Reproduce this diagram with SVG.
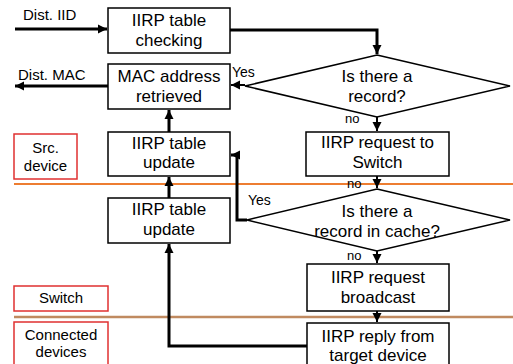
<svg xmlns="http://www.w3.org/2000/svg" width="513" height="364" viewBox="0 0 513 364">
  <style>
    .box { fill: #ffffff; stroke: #000000; stroke-width: 1.5; }
    .lane { fill: #ffffff; stroke: #e03030; stroke-width: 1.5; }
    .t { font-family: "Liberation Sans", Arial, sans-serif; font-size: 17px; fill: #000000; text-anchor: middle; }
    .lt { font-family: "Liberation Sans", Arial, sans-serif; font-size: 15px; fill: #000000; text-anchor: middle; }
    .d { font-family: "Liberation Sans", Arial, sans-serif; font-size: 15px; fill: #000000; }
    .s { font-family: "Liberation Sans", Arial, sans-serif; font-size: 14px; fill: #000000; }
    .n { font-family: "Liberation Sans", Arial, sans-serif; font-size: 13px; fill: #000000; }
    .thick { fill: none; stroke: #000000; stroke-width: 3; }
    .thin { fill: none; stroke: #000000; stroke-width: 2; }
  </style>
  <defs>
    <marker id="arrow" markerUnits="userSpaceOnUse" markerWidth="10" markerHeight="10" refX="9" refY="5" orient="auto">
      <path d="M0,0.5 L9,5 L0,9.5 Z" fill="#000000"/>
    </marker>
  </defs>

  <rect width="513" height="364" fill="#ffffff"/>

  <!-- lane separators -->
  <g id="lanes">
    <line x1="14" y1="184" x2="513" y2="184" stroke="#ed7d31" stroke-width="2"/>
    <line x1="14" y1="317" x2="513" y2="317" stroke="#c08a60" stroke-width="2.5"/>
  </g>

  <!-- lane labels -->
  <g id="lane-src">
    <rect class="lane" x="14" y="134" width="63" height="45"/>
    <text class="lt" x="45.5" y="153">Src.</text>
    <text class="lt" x="45.5" y="171">device</text>
  </g>
  <g id="lane-switch">
    <rect class="lane" x="14" y="286" width="94" height="25"/>
    <text class="lt" x="61" y="303">Switch</text>
  </g>
  <g id="lane-connected">
    <rect class="lane" x="14" y="322" width="94" height="50"/>
    <text class="lt" x="61" y="340">Connected</text>
    <text class="lt" x="61" y="357">devices</text>
  </g>

  <!-- connectors -->
  <g id="connectors">
    <line class="thick" x1="15" y1="29" x2="107" y2="29" marker-end="url(#arrow)"/>
    <line class="thick" x1="108" y1="86" x2="15" y2="86" marker-end="url(#arrow)"/>
    <path class="thick" d="M230,30 H377 V54" marker-end="url(#arrow)"/>
    <line class="thin" x1="245" y1="85" x2="231" y2="85" marker-end="url(#arrow)"/>
    <line class="thin" x1="377" y1="117" x2="377" y2="131" marker-end="url(#arrow)"/>
    <line class="thin" x1="377" y1="176" x2="377" y2="188" marker-end="url(#arrow)"/>
    <path class="thick" d="M247,220 H237 V155 H231" marker-end="url(#arrow)"/>
    <line class="thin" x1="377" y1="251" x2="377" y2="263" marker-end="url(#arrow)"/>
    <line class="thin" x1="377" y1="311" x2="377" y2="322" marker-end="url(#arrow)"/>
    <path class="thick" d="M307,346 H169 V244" marker-end="url(#arrow)"/>
    <line class="thick" x1="169" y1="198" x2="169" y2="177" marker-end="url(#arrow)"/>
    <line class="thick" x1="169" y1="132" x2="169" y2="110" marker-end="url(#arrow)"/>
    <text class="d" x="23" y="20">Dist. IID</text>
    <text class="d" x="18" y="80">Dist. MAC</text>
    <text class="s" x="232" y="77">Yes</text>
    <text class="n" x="345" y="123">no</text>
    <text class="n" x="347" y="188">no</text>
    <text class="s" x="248" y="205">Yes</text>
    <text class="n" x="347" y="260">no</text>
  </g>

  <!-- nodes -->
  <g id="table-checking">
    <rect class="box" x="108" y="8" width="122" height="45"/>
    <text class="t" x="169" y="26">IIRP table</text>
    <text class="t" x="169" y="46">checking</text>
  </g>
  <g id="mac-retrieved">
    <rect class="box" x="108" y="64" width="122" height="45"/>
    <text class="t" x="169" y="82">MAC address</text>
    <text class="t" x="169" y="102">retrieved</text>
  </g>
  <g id="src-table-update">
    <rect class="box" x="108" y="132" width="122" height="44"/>
    <text class="t" x="169" y="149">IIRP table</text>
    <text class="t" x="169" y="168">update</text>
  </g>
  <g id="switch-table-update">
    <rect class="box" x="108" y="198" width="122" height="45"/>
    <text class="t" x="169" y="215">IIRP table</text>
    <text class="t" x="169" y="235">update</text>
  </g>
  <g id="record-check">
    <polygon class="box" points="377,55 510,86 377,117 245,86"/>
    <text class="t" x="377" y="82">Is there a</text>
    <text class="t" x="377" y="102">record?</text>
  </g>
  <g id="request-to-switch">
    <rect class="box" x="306" y="132" width="143" height="44"/>
    <text class="t" x="377.5" y="148">IIRP request to</text>
    <text class="t" x="377.5" y="168">Switch</text>
  </g>
  <g id="cache-check">
    <polygon class="box" points="377,189 510,220 377,251 247,220"/>
    <text class="t" x="377" y="217">Is there a</text>
    <text class="t" x="377" y="237">record in cache?</text>
  </g>
  <g id="request-broadcast">
    <rect class="box" x="307" y="264" width="142" height="47"/>
    <text class="t" x="378" y="283">IIRP request</text>
    <text class="t" x="378" y="303">broadcast</text>
  </g>
  <g id="reply-from-target">
    <rect class="box" x="307" y="323" width="142" height="50"/>
    <text class="t" x="378" y="342">IIRP reply from</text>
    <text class="t" x="378" y="361">target device</text>
  </g>
</svg>
